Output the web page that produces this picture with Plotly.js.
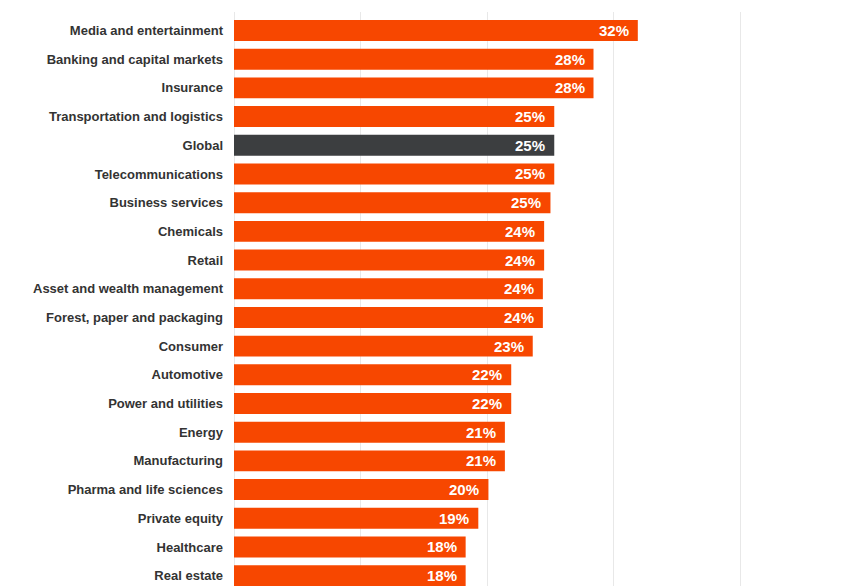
<!DOCTYPE html>
<html>
<head>
<meta charset="utf-8">
<script src="https://cdn.plot.ly/plotly-3.0.1.min.js"></script>
<style>html,body{margin:0;padding:0;background:#fff;}#chart{width:853px;height:586px;}</style>
</head>
<body>
<div id="chart"></div>
<script>
const categories = [
  "Media and entertainment",
  "Banking and capital markets",
  "Insurance",
  "Transportation and logistics",
  "Global",
  "Telecommunications",
  "Business services",
  "Chemicals",
  "Retail",
  "Asset and wealth management",
  "Forest, paper and packaging",
  "Consumer",
  "Automotive",
  "Power and utilities",
  "Energy",
  "Manufacturing",
  "Pharma and life sciences",
  "Private equity",
  "Healthcare",
  "Real estate"
];
const values = [31.9, 28.4, 28.4, 25.3, 25.3, 25.3, 25.0, 24.5, 24.5, 24.4, 24.4, 23.6, 21.9, 21.9, 21.4, 21.4, 20.1, 19.3, 18.3, 18.3];
const valueLabels = ["32%", "28%", "28%", "25%", "25%", "25%", "25%", "24%", "24%", "24%", "24%", "23%", "22%", "22%", "21%", "21%", "20%", "19%", "18%", "18%"];
const highlight = "Global";

const ORANGE = "#F74700";
const DARK = "#3C3E40";
const colors = categories.map(c => c === highlight ? DARK : ORANGE);

const trace = {
  type: "bar",
  orientation: "h",
  x: values,
  y: categories,
  width: 0.73,
  marker: {color: colors, line: {width: 0}},
  hoverinfo: "skip"
};

const annotations = categories.map((c, i) => ({
  x: values[i], y: c, xref: "x", yref: "y",
  text: valueLabels[i], showarrow: false,
  xanchor: "right", xshift: -7, yshift: 0,
  font: {family: "Liberation Sans, Arial, sans-serif", size: 15, color: "#ffffff", weight: "bold"}
}));

const layout = {
  width: 853, height: 586,
  margin: {l: 234, r: 100, t: 12, b: 0, pad: 0},
  paper_bgcolor: "#ffffff", plot_bgcolor: "#ffffff",
  showlegend: false,
  bargap: 0.27,
  xaxis: {
    range: [0, 41], showticklabels: false, ticks: "",
    showgrid: true, gridcolor: "#e8e8e8", gridwidth: 1, dtick: 10, tick0: 0,
    zeroline: true, zerolinecolor: "#e8e8e8", zerolinewidth: 1,
    showline: false, fixedrange: true
  },
  yaxis: {
    type: "category",
    range: [19.36, -0.645],
    ticks: "", showgrid: false, zeroline: false, showline: false,
    ticklabelstandoff: 10,
    tickfont: {family: "Liberation Sans, Arial, sans-serif", size: 13, color: "#333333", weight: "bold"},
    fixedrange: true
  },
  annotations: annotations
};

Plotly.newPlot("chart", [trace], layout, {displayModeBar: false, staticPlot: true});
</script>
</body>
</html>
